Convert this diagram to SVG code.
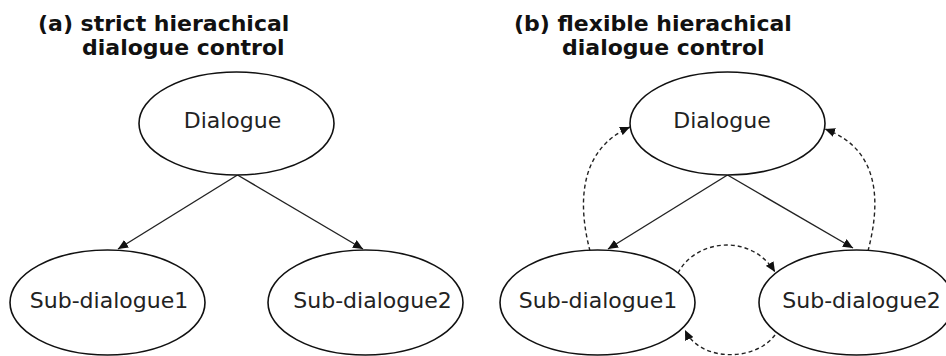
<svg xmlns="http://www.w3.org/2000/svg" width="946" height="356" viewBox="0 0 946 356">
  <style>
    .title { font-family: "DejaVu Sans", "Liberation Sans", sans-serif; font-weight: bold; font-size: 22px; fill: #111; }
    .label { font-family: "DejaVu Sans", "Liberation Sans", sans-serif; font-size: 22px; fill: #222; text-anchor: middle; }
    .node ellipse { fill: #fff; stroke: #111; stroke-width: 1.6; }
    .edge { fill: none; stroke: #222; stroke-width: 1.4; marker-end: url(#head); }
    .dash { stroke-dasharray: 4 3; }
  </style>
  <defs>
    <marker id="head" viewBox="0 0 10 9" refX="10" refY="4.5" markerWidth="10" markerHeight="9" markerUnits="userSpaceOnUse" orient="auto">
      <path d="M0,0 L10,4.5 L0,9 Z" fill="#111"/>
    </marker>
  </defs>
  <rect width="946" height="356" fill="#fff"/>

  <!-- panel titles -->
  <text class="title" x="38" y="31">(a) strict hierachical</text>
  <text class="title" x="82" y="55">dialogue control</text>
  <text class="title" x="514" y="31">(b) flexible hierachical</text>
  <text class="title" x="562" y="55">dialogue control</text>

  <!-- connectors -->
  <g id="connectors">
    <path class="edge" d="M237.5,175 L118,249"/>
    <path class="edge" d="M237.5,175 L363,249"/>
    <path class="edge" d="M727.5,175 L608,249"/>
    <path class="edge" d="M727.5,175 L853,248"/>
    <path class="edge dash" d="M590,251 C578,205 578,150 630,127"/>
    <path class="edge dash" d="M868,251 C880,205 882,150 825,129"/>
    <path class="edge dash" d="M678,273 C695,240 750,232 775,272"/>
    <path class="edge dash" d="M775,335 C755,362 700,362 685,330"/>
  </g>

  <!-- (a) strict hierarchy -->
  <g id="a-dialogue" class="node">
    <ellipse cx="236.5" cy="123.5" rx="97.5" ry="51.5"/>
    <text class="label" x="232.5" y="128">Dialogue</text>
  </g>
  <g id="a-sub1" class="node">
    <ellipse cx="107.5" cy="302.5" rx="97.5" ry="52.5"/>
    <text class="label" x="109" y="308">Sub-dialogue1</text>
  </g>
  <g id="a-sub2" class="node">
    <ellipse cx="365.5" cy="302.5" rx="97.5" ry="52.5"/>
    <text class="label" x="372.5" y="308">Sub-dialogue2</text>
  </g>

  <!-- (b) flexible hierarchy -->
  <g id="b-dialogue" class="node">
    <ellipse cx="727.5" cy="123.5" rx="97.5" ry="51.5"/>
    <text class="label" x="722" y="128">Dialogue</text>
  </g>
  <g id="b-sub1" class="node">
    <ellipse cx="597.5" cy="302.5" rx="97.5" ry="52.5"/>
    <text class="label" x="598" y="308">Sub-dialogue1</text>
  </g>
  <g id="b-sub2" class="node">
    <ellipse cx="856.5" cy="302.5" rx="97.5" ry="52.5"/>
    <text class="label" x="861.5" y="308">Sub-dialogue2</text>
  </g>
</svg>
